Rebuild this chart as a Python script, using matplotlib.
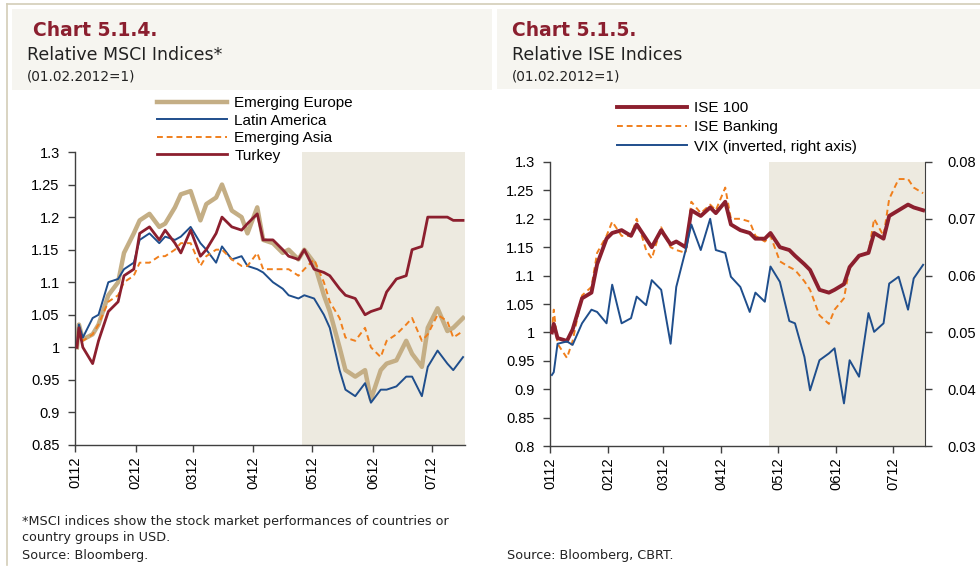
import numpy as np
import pandas as pd
import matplotlib
matplotlib.use('Agg')
import matplotlib.pyplot as plt
import matplotlib.dates as mdates
from matplotlib.patches import Rectangle
from matplotlib.lines import Line2D
from matplotlib.ticker import FuncFormatter

# sample dates (every 3 business days)
dates = pd.to_datetime([
    '2012-01-02', '2012-01-03', '2012-01-05', '2012-01-10', '2012-01-13', '2012-01-18',
    '2012-01-23', '2012-01-26', '2012-01-31',
    '2012-02-03', '2012-02-08', '2012-02-13', '2012-02-16', '2012-02-21', '2012-02-24', '2012-02-29',
    '2012-03-05', '2012-03-08', '2012-03-13', '2012-03-16', '2012-03-21', '2012-03-26', '2012-03-29',
    '2012-04-03', '2012-04-06', '2012-04-11', '2012-04-16', '2012-04-19', '2012-04-24', '2012-04-27',
    '2012-05-02', '2012-05-07', '2012-05-10', '2012-05-15', '2012-05-18', '2012-05-23', '2012-05-28',
    '2012-05-31',
    '2012-06-05', '2012-06-08', '2012-06-13', '2012-06-18', '2012-06-21', '2012-06-26', '2012-06-29',
    '2012-07-04', '2012-07-09', '2012-07-12', '2012-07-17'])

# Chart 5.1.4 - relative MSCI indices
em_europe = [1.0, 1.035, 1.012, 1.02, 1.035, 1.08, 1.10, 1.145, 1.175,
             1.195, 1.205, 1.185, 1.19, 1.215, 1.235, 1.24,
             1.195, 1.22, 1.23, 1.25, 1.21, 1.20, 1.175,
             1.215, 1.165, 1.16, 1.145, 1.15, 1.135, 1.15,
             1.13, 1.08, 1.055, 1.0, 0.965, 0.955, 0.965, 0.92,
             0.965, 0.975, 0.98, 1.01, 0.99, 0.97, 1.03,
             1.06, 1.025, 1.03, 1.045]
lat_america = [1.0, 1.035, 1.015, 1.045, 1.05, 1.10, 1.105, 1.12, 1.13,
               1.165, 1.175, 1.16, 1.17, 1.165, 1.17, 1.185,
               1.16, 1.15, 1.13, 1.155, 1.135, 1.14, 1.125,
               1.12, 1.115, 1.10, 1.09, 1.08, 1.075, 1.08,
               1.075, 1.05, 1.03, 0.965, 0.935, 0.925, 0.945, 0.915,
               0.935, 0.935, 0.94, 0.955, 0.955, 0.925, 0.97,
               0.995, 0.975, 0.965, 0.985]
em_asia = [1.0, 1.02, 1.01, 1.02, 1.035, 1.07, 1.08, 1.10, 1.11,
           1.13, 1.13, 1.14, 1.14, 1.15, 1.16, 1.16,
           1.125, 1.14, 1.15, 1.15, 1.135, 1.125, 1.125,
           1.145, 1.12, 1.12, 1.12, 1.12, 1.11, 1.12,
           1.135, 1.10, 1.07, 1.045, 1.015, 1.01, 1.03, 1.0,
           0.985, 1.01, 1.02, 1.035, 1.045, 1.01, 1.02,
           1.05, 1.04, 1.015, 1.025]
turkey = [1.0, 1.03, 1.0, 0.975, 1.01, 1.055, 1.07, 1.11, 1.12,
          1.175, 1.185, 1.165, 1.18, 1.16, 1.145, 1.18,
          1.14, 1.15, 1.175, 1.20, 1.185, 1.18, 1.19,
          1.205, 1.165, 1.165, 1.15, 1.14, 1.135, 1.15,
          1.12, 1.115, 1.11, 1.09, 1.08, 1.075, 1.05, 1.055,
          1.06, 1.085, 1.105, 1.11, 1.15, 1.155, 1.20,
          1.20, 1.20, 1.195, 1.195]

# Chart 5.1.5 - relative ISE indices and VIX
ise100 = [1.0, 1.015, 0.99, 0.985, 1.005, 1.06, 1.07, 1.12, 1.165,
          1.175, 1.18, 1.17, 1.19, 1.165, 1.15, 1.18,
          1.155, 1.16, 1.15, 1.215, 1.205, 1.22, 1.21,
          1.23, 1.19, 1.18, 1.175, 1.165, 1.165, 1.175,
          1.15, 1.145, 1.135, 1.12, 1.11, 1.075, 1.07, 1.075,
          1.085, 1.115, 1.135, 1.14, 1.175, 1.165, 1.205,
          1.215, 1.225, 1.22, 1.215]
ise_bank = [1.0, 1.04, 0.98, 0.955, 0.985, 1.065, 1.08, 1.14, 1.17,
            1.195, 1.17, 1.17, 1.20, 1.145, 1.13, 1.185,
            1.15, 1.145, 1.14, 1.23, 1.21, 1.225, 1.215,
            1.255, 1.20, 1.20, 1.195, 1.17, 1.16, 1.17,
            1.125, 1.115, 1.11, 1.09, 1.075, 1.03, 1.015, 1.04,
            1.06, 1.115, 1.135, 1.14, 1.20, 1.17, 1.235,
            1.27, 1.27, 1.255, 1.245]
vix = [0.0425, 0.043, 0.048, 0.0484, 0.0478, 0.0516, 0.054, 0.0536, 0.0516,
       0.0584, 0.0516, 0.0525, 0.0563, 0.0548, 0.0592, 0.0575,
       0.048, 0.058, 0.0645, 0.069, 0.0645, 0.070, 0.0645,
       0.064, 0.0598, 0.058, 0.0536, 0.057, 0.0554, 0.0616,
       0.0589, 0.052, 0.0516, 0.0457, 0.0398, 0.0451, 0.0463, 0.0472,
       0.0375, 0.0451, 0.0422, 0.0534, 0.0501, 0.0516, 0.0586,
       0.0598, 0.054, 0.0595, 0.0619]

x_start = pd.Timestamp('2012-01-01')
x_end = pd.Timestamp('2012-07-18')
shade_start = pd.Timestamp('2012-04-26')

TAN = '#c4ae85'
BLUE = '#1f4e8c'
ORANGE = '#f07f1c'
RED = '#8c1f2e'
SHADE = '#edeae0'
HEAD_BG = '#f6f5f0'
BORDER = '#d3cdb8'
TITLE_C = '#8b1f2f'
TXT = '#222222'

plt.rcParams['font.family'] = ['Liberation Sans', 'DejaVu Sans']
W, H = 980, 569
fig = plt.figure(figsize=(9.8, 5.69), dpi=100)
fig.patch.set_facecolor('white')


def fx(px):
    return px / W


def fy(py):
    return 1 - py / H


# frame lines and header boxes
fig.add_artist(Line2D([fx(7), 1], [fy(3.5), fy(3.5)], color=BORDER, lw=1.2))
fig.add_artist(Line2D([fx(7), fx(7)], [fy(3.5), fy(565)], color=BORDER, lw=1.2))
fig.patches.append(Rectangle((fx(12), fy(90)), fx(480), 81 / H, transform=fig.transFigure,
                             facecolor=HEAD_BG, edgecolor='none', zorder=0))
fig.patches.append(Rectangle((fx(497), fy(89)), fx(483), 80 / H, transform=fig.transFigure,
                             facecolor=HEAD_BG, edgecolor='none', zorder=0))

head_font = 'DejaVu Sans'
for x0, title, sub in [(27, 'Chart 5.1.4.', 'Relative MSCI Indices*'),
                       (512, 'Chart 5.1.5.', 'Relative ISE Indices')]:
    fig.text(fx(x0 + 6 if x0 == 27 else x0), fy(31), title, color=TITLE_C, fontsize=13.5,
             fontweight='bold', family=head_font, va='center', ha='left')
    fig.text(fx(x0), fy(55), sub, color=TXT, fontsize=12.5, family=head_font, va='center')
    fig.text(fx(x0), fy(76), '(01.02.2012=1)', color=TXT, fontsize=9.8, family=head_font, va='center')

fig.text(fx(22), fy(522), '*MSCI indices show the stock market performances of countries or',
         color=TXT, fontsize=9.2, family=head_font, va='center')
fig.text(fx(22), fy(538), 'country groups in USD.', color=TXT, fontsize=9.2, family=head_font, va='center')
fig.text(fx(22), fy(556), 'Source: Bloomberg.', color=TXT, fontsize=9.2, family=head_font, va='center')
fig.text(fx(507), fy(556), 'Source: Bloomberg, CBRT.', color=TXT, fontsize=9.2, family=head_font, va='center')

yfmt = FuncFormatter(lambda v, p: format(round(v, 3), 'g'))


def style_axis(ax, ylo, yhi):
    ax.set_xlim(x_start, x_end)
    ax.set_ylim(ylo, yhi)
    ax.set_yticks(np.arange(ylo, yhi + 0.001, 0.05))
    ax.yaxis.set_major_formatter(yfmt)
    ax.xaxis.set_major_locator(mdates.MonthLocator())
    ax.xaxis.set_major_formatter(mdates.DateFormatter('%m%y'))
    ax.tick_params(axis='x', rotation=90, length=5, width=1, pad=3, labelsize=10.5, color='#404040')
    ax.tick_params(axis='y', length=5, width=1, pad=6, labelsize=10.5, color='#404040')
    for s in ['top', 'right']:
        ax.spines[s].set_visible(False)
    for s in ['left', 'bottom']:
        ax.spines[s].set_color('#404040')
        ax.spines[s].set_linewidth(1)
    ax.axvspan(shade_start, x_end, color=SHADE, zorder=0, lw=0)
    ax.set_facecolor('none')


# left chart
ax1 = fig.add_axes([fx(75), 1 - 445 / H, fx(390), 293 / H])
style_axis(ax1, 0.85, 1.3)
ax1.plot(dates, em_europe, color=TAN, lw=3.2, label='Emerging Europe', zorder=2)
ax1.plot(dates, lat_america, color=BLUE, lw=1.4, label='Latin America', zorder=3)
ax1.plot(dates, em_asia, color=ORANGE, lw=1.4, ls=(0, (3, 2)), label='Emerging Asia', zorder=3)
ax1.plot(dates, turkey, color=RED, lw=2.0, label='Turkey', zorder=4)
ax1.legend(loc='upper left', bbox_to_anchor=(fx(157), fy(96)), bbox_transform=fig.transFigure,
           frameon=False, fontsize=11, handlelength=4.6, handletextpad=0.45,
           labelspacing=0.23, borderpad=0, borderaxespad=0)

# right chart
ax2 = fig.add_axes([fx(550), 1 - 446 / H, fx(375), 284 / H])
style_axis(ax2, 0.8, 1.3)
ax3 = ax2.twinx()
ax3.set_ylim(0.03, 0.08)
ax3.set_yticks([0.03, 0.04, 0.05, 0.06, 0.07, 0.08])
ax3.yaxis.set_major_formatter(FuncFormatter(lambda v, p: f'{v:.2f}'))
ax3.tick_params(axis='y', length=5, width=1, pad=11, labelsize=10.5, color='#404040')
for s in ['top', 'left', 'bottom']:
    ax3.spines[s].set_visible(False)
ax3.spines['right'].set_color('#404040')

l1, = ax2.plot(dates, ise100, color=RED, lw=2.8, label='ISE 100', zorder=4)
l2, = ax2.plot(dates, ise_bank, color=ORANGE, lw=1.4, ls=(0, (3, 2)), label='ISE Banking', zorder=3)
l3, = ax3.plot(dates, vix, color=BLUE, lw=1.4, label='VIX (inverted, right axis)')
ax3.legend(handles=[l1, l2, l3], loc='upper left', bbox_to_anchor=(fx(617), fy(101)),
           bbox_transform=fig.transFigure, frameon=False, fontsize=11, handlelength=4.6,
           handletextpad=0.45, labelspacing=0.35, borderpad=0, borderaxespad=0)

fig.savefig('out.png', dpi=100)
